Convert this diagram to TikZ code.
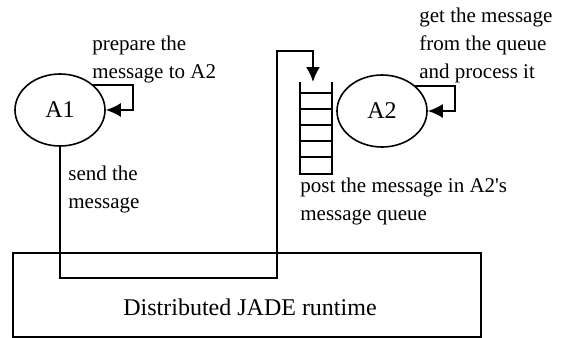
\documentclass[tikz,border=0pt]{standalone}
\usepackage{fontspec}
\setmainfont{Liberation Serif}
\usetikzlibrary{arrows.meta,shapes.geometric}
\tikzset{
  agent/.style={ellipse,draw,line width=0.8pt,minimum width=45pt,minimum height=36pt,inner sep=0pt,font=\fontsize{12}{14}\selectfont},
  note/.style={anchor=west,align=left,inner sep=0pt,font=\fontsize{10.5}{14}\selectfont},
  conn/.style={line width=1pt},
  tip/.style={-{Latex[length=7.5pt,width=7pt]}}
}
\begin{document}
\begin{tikzpicture}[x=0.5pt,y=-0.5pt]
\useasboundingbox (0,0) rectangle (564,338);
\node[agent] (a1) at (60,110) {A1};
\node[agent] (a2) at (382,111) {A2};
\node[draw,line width=0.8pt,minimum width=234pt,minimum height=42pt,inner sep=0pt] (rt) at (247,295) {};
\node[font=\fontsize{12}{14}\selectfont] (rtlabel) at (250,307) {Distributed JADE runtime};

\node[note] (prep) at (92,59.5) {prepare the\\message to A2};
\node[note] (get) at (419,45) {get the message\\from the queue\\and process it};
\node[note] (send) at (68,189) {send the\\message};
\node[note] (post) at (300,201.5) {post the message in A2\textquotesingle s\\message queue};

\coordinate (a1loop) at (133,110);
\coordinate (a2loop) at (455,111);
\coordinate (b1) at (277,278);
\coordinate (b2) at (313,51);
\coordinate (qtop) at (313,82);

\draw[conn] (300,82) -- (300,174) -- (332,174) -- (332,82);
\foreach \y in {93,109,125,141,157}
  \draw[conn] (300,\y) -- (332,\y);

\draw[conn,tip] (a1.37) -| (a1loop) -- (a1.east);
\draw[conn,tip] (a2.37) -| (a2loop) -- (a2.east);
\draw[conn,tip] (a1.south) |- (b1) |- (b2) -- (qtop);
\end{tikzpicture}
\end{document}
